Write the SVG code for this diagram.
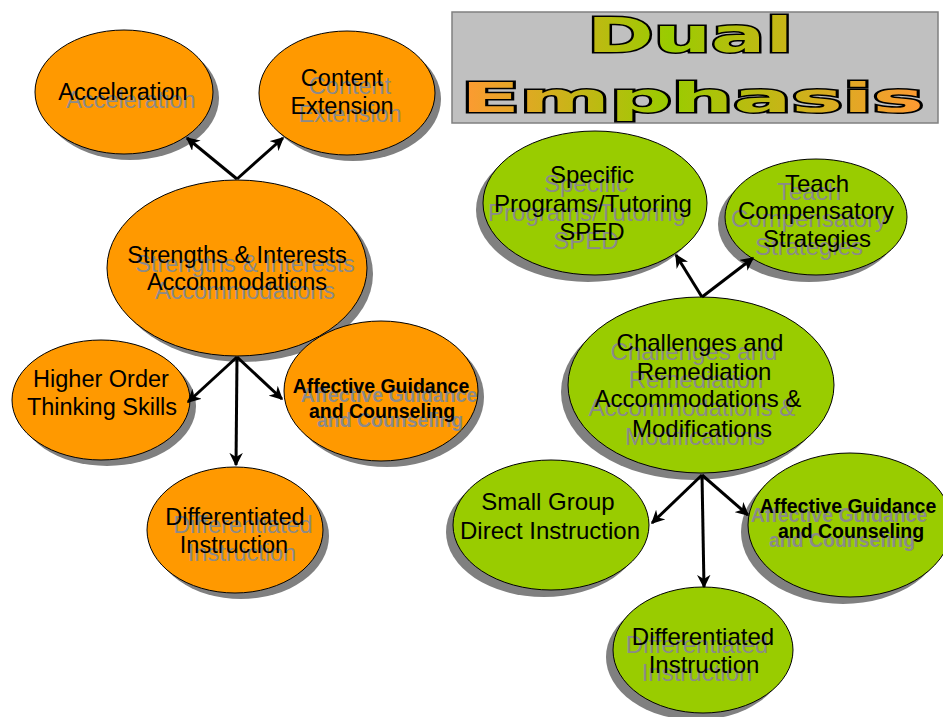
<svg xmlns="http://www.w3.org/2000/svg" width="943" height="717" viewBox="0 0 943 717">
<style>
.or{fill:#ff9900;stroke:#000;stroke-width:1}
.gr{fill:#99cc00;stroke:#000;stroke-width:1}
.sh{fill:#808080}
text{font-family:"Liberation Sans",Arial,sans-serif;text-anchor:middle}
.t{font-size:23.5px;fill:#000}
.g{font-size:23.5px;fill:#8a8a8a}
.gn .t,.gn .g{font-size:24px}
.tb{font-size:19.5px;font-weight:bold;fill:#000}
.gb{font-size:19.5px;font-weight:bold;fill:#8a8a8a}
.ttl{font-family:"DejaVu Sans","Liberation Sans",sans-serif;font-weight:bold;fill:url(#tg);stroke:#000;stroke-width:3;paint-order:stroke;text-anchor:start}
.c line{stroke:#000;stroke-width:3;marker-end:url(#ah)}
</style>
<defs>
<linearGradient id="tg" gradientUnits="userSpaceOnUse" x1="460" y1="0" x2="925" y2="0">
<stop offset="0" stop-color="#ff9933"/>
<stop offset="0.45" stop-color="#99cc00"/>
<stop offset="1" stop-color="#ff9933"/>
</linearGradient>
<marker id="ah" viewBox="0 0 10 10" refX="9" refY="5" markerWidth="4.5" markerHeight="4.5" orient="auto" markerUnits="strokeWidth">
<path d="M0,0 L10,5 L0,10 L3,5 z" fill="#000"/>
</marker>
</defs>
<rect width="943" height="717" fill="#fff"/>

<g id="title">
<rect x="452" y="12" width="486" height="111" fill="#c0c0c0" stroke="#808080" stroke-width="1.5"/>
<text class="ttl" x="587" y="52" font-size="48" textLength="206" lengthAdjust="spacingAndGlyphs">Dual</text>
<text class="ttl" x="461" y="112" font-size="41" textLength="463" lengthAdjust="spacingAndGlyphs">Emphasis</text>
</g>

<g id="acceleration">
<ellipse class="sh" cx="130" cy="98" rx="89" ry="62"/>
<ellipse class="or" cx="124" cy="92" rx="89" ry="62"/>
<text class="g" x="131" y="108">Acceleration</text>
<text class="t" x="123" y="100">Acceleration</text>
</g>

<g id="content-extension">
<ellipse class="sh" cx="353" cy="99" rx="88" ry="62"/>
<ellipse class="or" cx="347" cy="93" rx="88" ry="62"/>
<text class="g" x="350" y="94">Content</text>
<text class="g" x="350" y="122">Extension</text>
<text class="t" x="342" y="86">Content</text>
<text class="t" x="342" y="114">Extension</text>
</g>

<g id="strengths">
<ellipse class="sh" cx="243" cy="274" rx="130" ry="88"/>
<ellipse class="or" cx="237" cy="268" rx="130" ry="88"/>
<text class="g" x="245" y="272">Strengths &amp; Interests</text>
<text class="g" x="245" y="299">Accommodations</text>
<text class="t" x="237" y="263">Strengths &amp; Interests</text>
<text class="t" x="237" y="290">Accommodations</text>
</g>

<g id="higher-order">
<ellipse class="sh" cx="107" cy="406" rx="89" ry="60"/>
<ellipse class="or" cx="101" cy="400" rx="89" ry="60"/>
<text class="t" x="101" y="387">Higher Order</text>
<text class="t" x="102" y="415">Thinking Skills</text>
</g>

<g id="affective-left">
<ellipse class="sh" cx="387" cy="397" rx="97" ry="70"/>
<ellipse class="or" cx="381" cy="391" rx="97" ry="70"/>
<text class="gb" x="389" y="402">Affective Guidance</text>
<text class="gb" x="390" y="427">and Counseling</text>
<text class="tb" x="381" y="393">Affective Guidance</text>
<text class="tb" x="382" y="418">and Counseling</text>
</g>

<g id="differentiated-left">
<ellipse class="sh" cx="241" cy="536" rx="88" ry="63"/>
<ellipse class="or" cx="235" cy="530" rx="88" ry="63"/>
<text class="g" x="243" y="533">Differentiated</text>
<text class="g" x="242" y="561">Instruction</text>
<text class="t" x="235" y="525">Differentiated</text>
<text class="t" x="234" y="553">Instruction</text>
</g>

<g id="specific-programs" class="gn">
<ellipse class="sh" cx="588" cy="210" rx="112" ry="72"/>
<ellipse class="gr" cx="595" cy="203" rx="112" ry="72"/>
<text class="g" x="586" y="192">Specific</text>
<text class="g" x="587" y="221">Programs/Tutoring</text>
<text class="g" x="586" y="249">SPED</text>
<text class="t" x="592" y="183">Specific</text>
<text class="t" x="593" y="212">Programs/Tutoring</text>
<text class="t" x="592" y="240">SPED</text>
</g>

<g id="teach-compensatory" class="gn">
<ellipse class="sh" cx="809" cy="224" rx="91" ry="58"/>
<ellipse class="gr" cx="816" cy="217" rx="91" ry="58"/>
<text class="g" x="809" y="200">Teach</text>
<text class="g" x="809" y="227">Compensatory</text>
<text class="g" x="809" y="255">Strategies</text>
<text class="t" x="817" y="192">Teach</text>
<text class="t" x="816" y="219">Compensatory</text>
<text class="t" x="817" y="247">Strategies</text>
</g>

<g id="challenges" class="gn">
<ellipse class="sh" cx="694" cy="392" rx="133" ry="88"/>
<ellipse class="gr" cx="701" cy="385" rx="133" ry="88"/>
<text class="g" x="694" y="360">Challenges and</text>
<text class="g" x="696" y="388">Remediation</text>
<text class="g" x="692" y="416">Accommodations &amp;</text>
<text class="g" x="695" y="445">Modifications</text>
<text class="t" x="700" y="351">Challenges and</text>
<text class="t" x="704" y="380">Remediation</text>
<text class="t" x="698" y="407">Accommodations &amp;</text>
<text class="t" x="702" y="437">Modifications</text>
</g>

<g id="small-group" class="gn">
<ellipse class="sh" cx="544" cy="532" rx="98" ry="65"/>
<ellipse class="gr" cx="551" cy="525" rx="98" ry="65"/>
<text class="t" x="548" y="510">Small Group</text>
<text class="t" x="550" y="539">Direct Instruction</text>
</g>

<g id="affective-right">
<ellipse class="sh" cx="843" cy="532" rx="102" ry="72"/>
<ellipse class="gr" cx="850" cy="525" rx="102" ry="72"/>
<text class="gb" x="839" y="522">Affective Guidance</text>
<text class="gb" x="842" y="547">and Counseling</text>
<text class="tb" x="848" y="513">Affective Guidance</text>
<text class="tb" x="851" y="538">and Counseling</text>
</g>

<g id="differentiated-right" class="gn">
<ellipse class="sh" cx="696" cy="657" rx="90" ry="63"/>
<ellipse class="gr" cx="703" cy="650" rx="90" ry="63"/>
<text class="g" x="697" y="653">Differentiated</text>
<text class="g" x="697" y="681">Instruction</text>
<text class="t" x="703" y="645">Differentiated</text>
<text class="t" x="704" y="673">Instruction</text>
</g>

<g id="connectors" class="c">
<line x1="237" y1="179" x2="187" y2="138"/>
<line x1="237" y1="179" x2="283" y2="138"/>
<line x1="237" y1="357" x2="188" y2="402"/>
<line x1="237" y1="357" x2="236" y2="465"/>
<line x1="237" y1="357" x2="282" y2="399"/>
<line x1="702" y1="297" x2="676" y2="255"/>
<line x1="702" y1="297" x2="753" y2="258"/>
<line x1="702" y1="475" x2="652" y2="523"/>
<line x1="702" y1="475" x2="704" y2="587"/>
<line x1="702" y1="475" x2="748" y2="515"/>
</g>
</svg>
